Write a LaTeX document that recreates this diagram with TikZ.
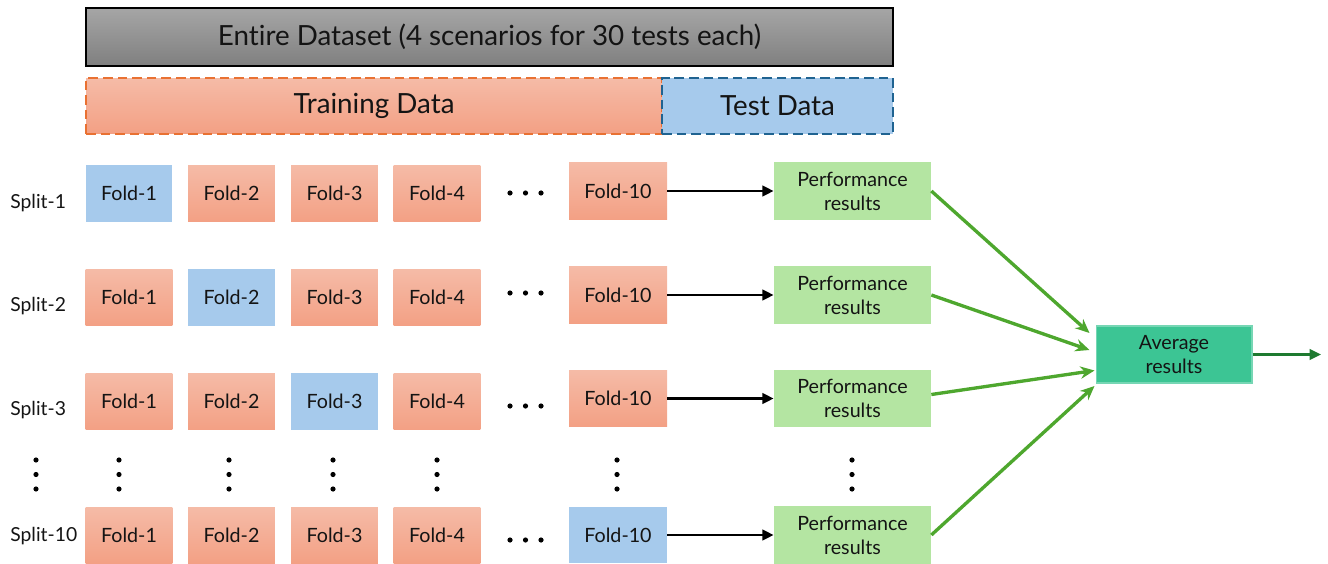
\documentclass[tikz,border=0pt]{standalone}
\usepackage{fontspec}
\setmainfont{Lato}[Ligatures=NoCommon]
\usetikzlibrary{arrows.meta,positioning,calc}
\definecolor{salmontop}{HTML}{F5BBA7}
\definecolor{salmonbot}{HTML}{F3A084}
\definecolor{testblue}{HTML}{A6CAEC}
\definecolor{perfgreen}{HTML}{B4E5A2}
\definecolor{avggreen}{HTML}{3CC594}
\definecolor{arrowgreen}{HTML}{4EA72E}
\definecolor{outgreen}{HTML}{1E7A30}
\definecolor{trainframe}{HTML}{E97132}
\definecolor{testframe}{HTML}{1F6391}
\definecolor{txt}{HTML}{141414}

\tikzset{
  boxtext/.style={text=txt,inner sep=0pt,align=center,font=\fontsize{11.2}{13.6}\selectfont},
  trainfold/.style={boxtext,minimum width=1.74cm,minimum height=1.14cm,top color=salmontop,bottom color=salmonbot},
  testfold/.style={boxtext,minimum width=1.74cm,minimum height=1.14cm,fill=testblue},
  perfbox/.style={boxtext,minimum width=3.14cm,minimum height=1.16cm,fill=perfgreen},
  splitlab/.style={text=txt,inner sep=0pt,anchor=west,font=\fontsize{11}{13}\selectfont},
  bigtext/.style={text=txt,inner sep=0pt,minimum height=1.12cm,font=\fontsize{15.8}{18}\selectfont},
  blackarrow/.style={-{Triangle[length=6.5pt,width=6pt]},line width=1.5pt},
  greenarrow/.style={-{Stealth[length=8pt,width=7pt]},line width=1.9pt,arrowgreen},
}

\begin{document}
\begin{tikzpicture}[x=0.02cm,y=-0.02cm]
\useasboundingbox (0,0) rectangle (1328,564);
% top bars
\node[bigtext,minimum width=16.14cm,minimum height=1.16cm,top color=black!35,bottom color=black!50,draw=black,line width=1.1pt] (all) at (489.5,37) {Entire Dataset (4 scenarios for 30 tests each)};
\node[bigtext,minimum width=11.52cm,top color=salmontop,bottom color=salmonbot,draw=trainframe,line width=1.1pt,dash pattern=on 5.5pt off 2.8pt] (train) at (374,106) {Training Data};
\node[bigtext,minimum width=4.62cm,fill=testblue,draw=testframe,line width=1.1pt,dash pattern=on 5.5pt off 2.8pt] (test) at (777.5,106) {Test Data};
% splits
\foreach \r/\y/\z/\d/\s in {1/193.5/191/193/203,2/297.5/295/293/306,3/401.5/398.5/406/410,10/535.5/535/540/536} {
  \node[splitlab] (s\r) at (10,\s) {Split-\r};
  \foreach \c/\x in {1/129,2/231.5,3/334.5,4/437} {
    \def\sty{trainfold}
    \ifnum\c=\r \def\sty{testfold}\fi
    \node[\sty] (f\r-\c) at (\x,\y) {Fold-\c};
  }
  \def\sty{trainfold}
  \ifnum\r=10 \def\sty{testfold}\fi
  \node[\sty,minimum width=1.96cm] (f\r-10) at (618,\z) {Fold-10};
  \node[perfbox] (p\r) at (852.5,\z) {Performance\\results};
  \foreach \x in {510,525.5,541} \fill (\x,\d) circle (0.052cm);
  \draw[blackarrow] (f\r-10.east) -- (p\r.west);
}
% vertical dots
\foreach \x in {36,119,229,333,437,617,852}
  \foreach \yy in {460,474.5,489} \fill (\x,\yy) circle (0.052cm);
% averaging
\node[boxtext,minimum width=3.12cm,minimum height=1.14cm,fill=avggreen,draw=avggreen!70!white,line width=0.6pt] (avg) at (1174,354.5) {Average\\results};
\coordinate (out) at (1321,354.5);
\draw[greenarrow] (p1.east) -- ($(avg.west)+(-6,-21.5)$);
\draw[greenarrow] (p2.east) -- ($(avg.west)+(-6,-4.5)$);
\draw[greenarrow] ($(p3.east)+(0,-4)$) -- ($(avg.west)+(-1,16)$);
\draw[greenarrow] (p10.east) -- ($(avg.west)+(-1,31.5)$);
\draw[-{Triangle[length=6.5pt,width=6pt]},line width=1.5pt,outgreen] (avg.east) -- (out);
\end{tikzpicture}
\end{document}
